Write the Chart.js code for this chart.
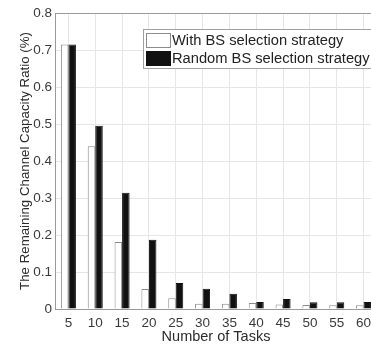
<!DOCTYPE html>
<html>
<head>
<meta charset="utf-8">
<script src="https://cdn.jsdelivr.net/npm/chart.js@4.4.1/dist/chart.umd.min.js"></script>
<style>
  html, body { margin: 0; padding: 0; background: #fff; overflow: hidden; }
  #wrap { width: 380px; height: 348px; }
</style>
</head>
<body>
<div id="wrap"><canvas id="chart" width="380" height="348"></canvas></div>
<script>
// data
const tasks = [5, 10, 15, 20, 25, 30, 35, 40, 45, 50, 55, 60];
const withBS = [0.715, 0.44, 0.181, 0.054, 0.029, 0.014, 0.014, 0.016, 0.012, 0.011, 0.010, 0.010];
const randomBS = [0.715, 0.495, 0.314, 0.187, 0.070, 0.055, 0.041, 0.019, 0.027, 0.018, 0.018, 0.019];
const seriesNames = ['With BS selection strategy', 'Random BS selection strategy'];
const yTicks = [0, 0.1, 0.2, 0.3, 0.4, 0.5, 0.6, 0.7, 0.8];

const FONT = '"Liberation Sans", Arial, sans-serif';
const TXT = '#3a3a3a';

// matlab style box legend drawn inside the plot
const boxLegend = {
    id: 'boxLegend',
    afterDraw(chart) {
        const ctx = chart.ctx;
        const a = chart.chartArea;
        const x0 = 143, y0 = a.top + 16, rowH = 18;
        ctx.save();
        ctx.fillStyle = '#fff';
        ctx.strokeStyle = '#a0a0a0';
        ctx.lineWidth = 1;
        ctx.fillRect(x0, y0, 400, 39);
        ctx.strokeRect(x0 + 0.5, y0 + 0.5, 400, 39);
        ctx.font = '14.7px ' + FONT;
        ctx.textBaseline = 'middle';
        chart.data.datasets.forEach((ds, i) => {
            const cy = y0 + 11 + i * rowH;
            ctx.fillStyle = ds.backgroundColor;
            ctx.fillRect(x0 + 3, cy - 7, 24, 14);
            ctx.strokeStyle = ds.borderColor;
            ctx.strokeRect(x0 + 3.5, cy - 6.5, 24, 14);
            ctx.fillStyle = '#222';
            ctx.fillText(ds.label, x0 + 29, cy + 1);
        });
        ctx.restore();
    }
};

// top edge of the axes box
const topEdge = {
    id: 'topEdge',
    afterDatasetsDraw(chart) {
        const ctx = chart.ctx;
        const a = chart.chartArea;
        ctx.save();
        ctx.strokeStyle = '#9a9a9a';
        ctx.lineWidth = 1;
        ctx.beginPath();
        ctx.moveTo(a.left, a.top + 0.5);
        ctx.lineTo(a.right, a.top + 0.5);
        ctx.stroke();
        ctx.restore();
    }
};

new Chart(document.getElementById('chart'), {
    type: 'bar',
    data: {
        labels: tasks.map(String),
        datasets: [{
            label: seriesNames[0],
            data: withBS,
            backgroundColor: '#ffffff',
            borderColor: '#8c8c8c',
            borderWidth: 1,
            categoryPercentage: 0.56,
            barPercentage: 1
        }, {
            label: seriesNames[1],
            data: randomBS,
            backgroundColor: '#111111',
            borderColor: '#111111',
            borderWidth: 1,
            categoryPercentage: 0.56,
            barPercentage: 1
        }]
    },
    options: {
        responsive: false,
        animation: false,
        layout: { padding: { top: 13, right: 3, bottom: 2, left: 17 } },
        plugins: {
            legend: { display: false },
            tooltip: { enabled: false }
        },
        scales: {
            x: {
                offset: true,
                grid: { offset: false, color: '#e6e6e6', drawTicks: false },
                border: { color: '#9a9a9a' },
                ticks: { font: { family: FONT, size: 13.5 }, color: TXT, padding: 6, maxRotation: 0 },
                title: {
                    display: true, text: 'Number of Tasks',
                    font: { family: FONT, size: 14.5 }, color: '#2a2a2a', padding: { top: 0, bottom: 0 }
                },
                afterFit(s) { s.height = 37; }
            },
            y: {
                min: 0, max: 0.8,
                afterBuildTicks(s) { s.ticks = yTicks.map(v => ({ value: v })); },
                grid: { color: '#e6e6e6', drawTicks: false },
                border: { color: '#9a9a9a' },
                ticks: {
                    font: { family: FONT, size: 13.5 }, color: TXT, padding: 3,
                    callback: v => String(Number(v.toFixed(1)))
                },
                title: {
                    display: true, text: 'The Remaining Channel Capacity Ratio (%)',
                    font: { family: FONT, size: 13.3 }, color: '#2a2a2a', padding: { top: 0, bottom: 0 }
                },
                afterFit(s) { s.width = 38; }
            }
        }
    },
    plugins: [topEdge, boxLegend]
});
</script>
</body>
</html>
